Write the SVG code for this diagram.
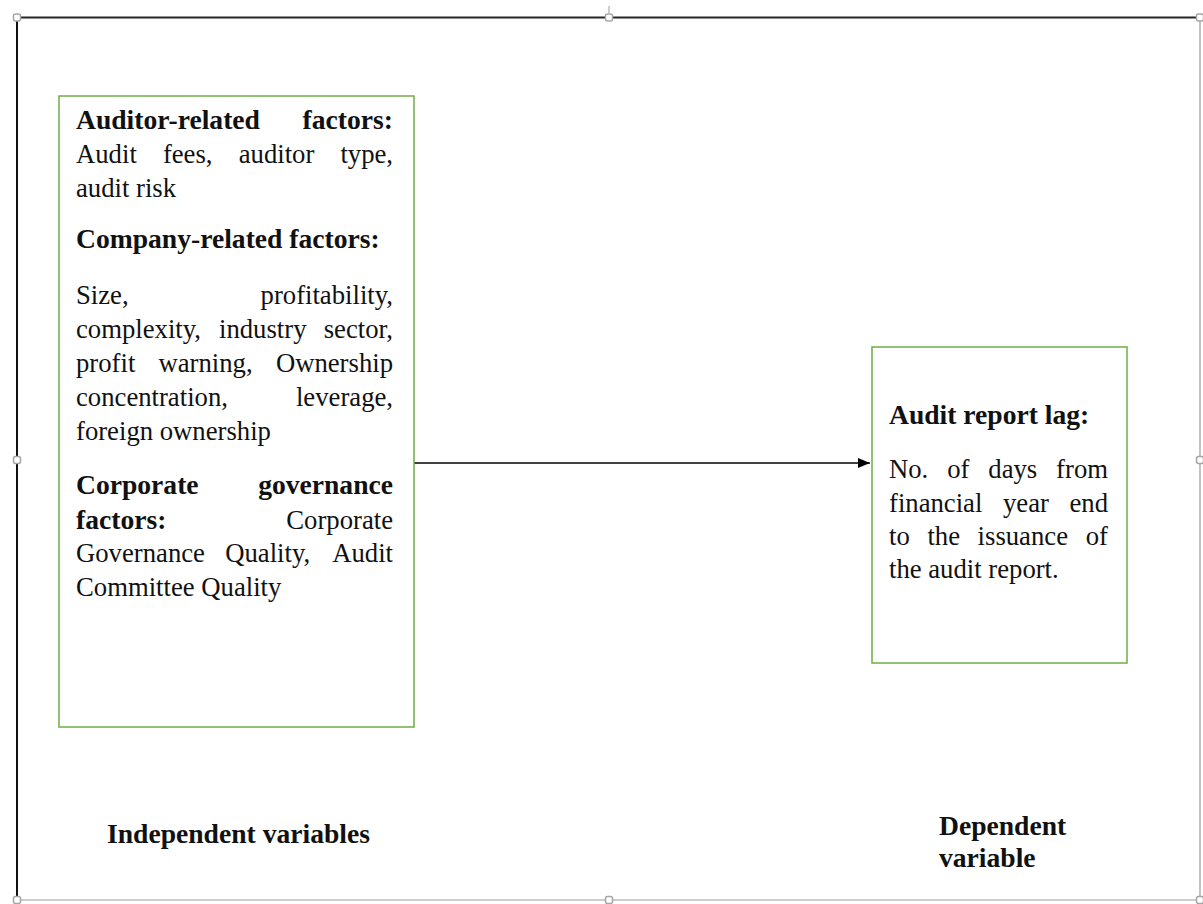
<svg xmlns="http://www.w3.org/2000/svg" width="1203" height="904" viewBox="0 0 1203 904">
<style>
.t{font-family:"Liberation Serif","Times New Roman",serif;font-size:26.7px;fill:#111}
.b{font-weight:bold;font-size:27.6px}
.e{text-anchor:end}
.box{fill:#fff;stroke:#70ad47;stroke-width:1.5}
.h{fill:#fff;stroke:#a6a6a6;stroke-width:1.5}
</style>
<defs>
<marker id="ah" markerWidth="12" markerHeight="10" refX="12" refY="5" orient="auto" markerUnits="userSpaceOnUse">
<path d="M0,0 L12,5 L0,10 Z" fill="#000"/>
</marker>
</defs>
<rect width="1203" height="904" fill="#fff"/>
<g id="frame">
<line x1="17" y1="17.5" x2="1200" y2="17.5" stroke="#262626" stroke-width="2"/>
<line x1="17" y1="17" x2="17" y2="900" stroke="#111" stroke-width="2"/>
<line x1="1200" y1="17" x2="1200" y2="900" stroke="#9a9a9a" stroke-width="1.2"/>
<line x1="17" y1="900" x2="1200" y2="900" stroke="#9a9a9a" stroke-width="1.2"/>
<line x1="609" y1="6" x2="609" y2="13" stroke="#999" stroke-width="1"/>
<rect class="h" x="13.5" y="14" width="7" height="7" rx="2"/>
<rect class="h" x="605.5" y="14" width="7" height="7" rx="2"/>
<rect class="h" x="1196.5" y="14" width="7" height="7" rx="2"/>
<rect class="h" x="13.5" y="456.5" width="7" height="7" rx="2"/>
<rect class="h" x="1196.5" y="456.5" width="7" height="7" rx="2"/>
<rect class="h" x="13.5" y="896.5" width="7" height="7" rx="2"/>
<rect class="h" x="605.5" y="896.5" width="7" height="7" rx="2"/>
<rect class="h" x="1196.5" y="896.5" width="7" height="7" rx="2"/>
</g>
<g id="connectors">
<line x1="414" y1="463" x2="870" y2="463" stroke="#000" stroke-width="1.5" marker-end="url(#ah)"/>
</g>
<g id="independent">
<rect class="box" x="59" y="96" width="355" height="631"/>
<text class="t b" x="76" y="129">Auditor-related</text>
<text class="t b e" x="393" y="129">factors:</text>
<text class="t" x="76" y="163">Audit</text>
<text class="t" x="162.9" y="163">fees,</text>
<text class="t" x="238.7" y="163">auditor</text>
<text class="t e" x="393" y="163">type,</text>
<text class="t" x="76" y="197">audit risk</text>
<text class="t b" x="76" y="248">Company-related factors:</text>
<text class="t" x="76" y="304">Size,</text>
<text class="t e" x="393" y="304">profitability,</text>
<text class="t" x="76" y="338">complexity,</text>
<text class="t" x="219" y="338">industry</text>
<text class="t e" x="393" y="338">sector,</text>
<text class="t" x="76" y="372">profit</text>
<text class="t" x="158.5" y="372">warning,</text>
<text class="t e" x="393" y="372">Ownership</text>
<text class="t" x="76" y="406">concentration,</text>
<text class="t e" x="393" y="406">leverage,</text>
<text class="t" x="76" y="440">foreign ownership</text>
<text class="t b" x="76" y="494">Corporate</text>
<text class="t b e" x="393" y="494">governance</text>
<text class="t b" x="76" y="529">factors:</text>
<text class="t e" x="393" y="529">Corporate</text>
<text class="t" x="76" y="562">Governance</text>
<text class="t" x="225.2" y="562">Quality,</text>
<text class="t e" x="393" y="562">Audit</text>
<text class="t" x="76" y="596">Committee Quality</text>
</g>
<g id="dependent">
<rect class="box" x="872" y="347" width="255" height="316"/>
<text class="t b" x="889" y="424">Audit report lag:</text>
<text class="t" x="889" y="478">No.</text>
<text class="t" x="947.2" y="478">of</text>
<text class="t" x="988.3" y="478">days</text>
<text class="t e" x="1108" y="478">from</text>
<text class="t" x="889" y="512">financial</text>
<text class="t" x="1003" y="512">year</text>
<text class="t e" x="1108" y="512">end</text>
<text class="t" x="889" y="545">to</text>
<text class="t" x="927.4" y="545">the</text>
<text class="t" x="977.6" y="545">issuance</text>
<text class="t e" x="1108" y="545">of</text>
<text class="t" x="889" y="578">the audit report.</text>
</g>
<g id="labels">
<text class="t b" x="107" y="843">Independent variables</text>
<text class="t b" x="939" y="835">Dependent</text>
<text class="t b" x="939" y="867">variable</text>
</g>
</svg>
